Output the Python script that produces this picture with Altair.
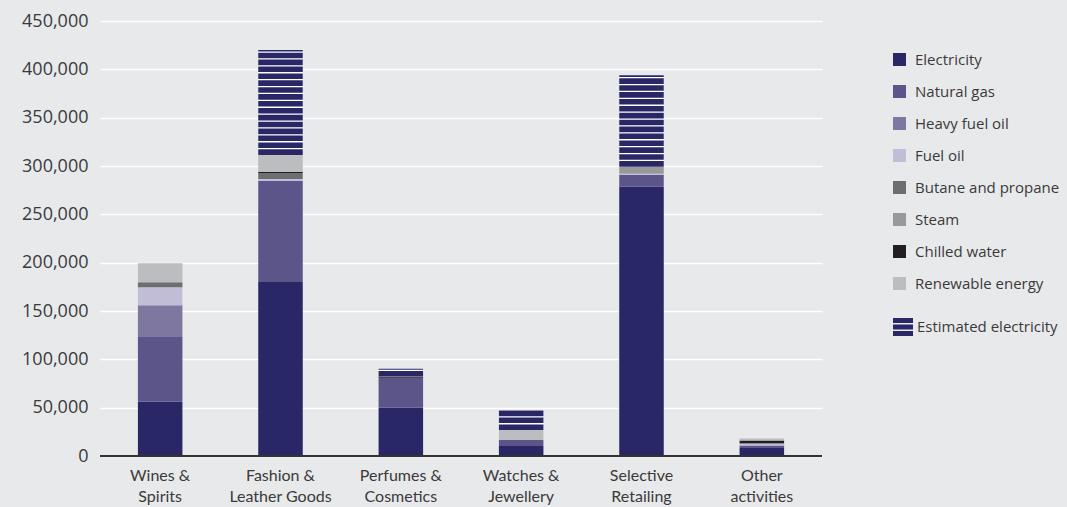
import altair as alt
import pandas as pd

categories = ["Wines &\nSpirits", "Fashion &\nLeather Goods", "Perfumes &\nCosmetics",
              "Watches &\nJewellery", "Selective\nRetailing", "Other\nactivities"]
sources = ["Electricity", "Natural gas", "Heavy fuel oil", "Fuel oil",
           "Butane and propane", "Steam", "Chilled water", "Renewable energy"]
colors = ["#2a2766", "#5c5589", "#7e77a0", "#c1bdd6", "#6d6e70", "#98999b", "#231f20", "#bcbdc0"]

electricity = [56000, 180000, 50000, 10300, 278600, 8300]
natural_gas = [68000, 104500, 31000, 6200, 12400, 2500]
heavy_fuel_oil = [32000, 0, 0, 0, 0, 0]
fuel_oil = [18600, 2000, 0, 0, 1000, 1500]
butane_propane = [5200, 6000, 0, 0, 0, 0]
steam = [0, 0, 0, 0, 7300, 1000]
chilled_water = [0, 1500, 1200, 0, 0, 2800]
renewable = [19600, 17500, 0, 10400, 0, 2000]
estimated_electricity = [0, 108600, 8000, 20700, 94700, 0]

series = [electricity, natural_gas, heavy_fuel_oil, fuel_oil, butane_propane,
          steam, chilled_water, renewable]

rows = []
for si, (src, vals) in enumerate(zip(sources, series)):
    for ci, cat in enumerate(categories):
        if vals[ci] > 0:
            rows.append({"category": cat, "source": src, "value": vals[ci], "idx": si})
df = pd.DataFrame(rows)

bases = [sum(s[ci] for s in series) for ci in range(len(categories))]
est_df = pd.DataFrame({
    "category": categories,
    "base": bases,
    "top": [b + e for b, e in zip(bases, estimated_electricity)],
    "est": estimated_electricity,
    "label": "Estimated electricity",
})
est_df = est_df[est_df["est"] > 0]

NAVY = "#2a2766"
TXT = "#3a3a3a"
xscale = alt.Scale(paddingInner=0.63, paddingOuter=0.315)
yscale = alt.Scale(domain=[0, 450000], nice=False)

x_enc = alt.X("category:N", sort=categories, scale=xscale,
              axis=alt.Axis(title=None, labelExpr="split(datum.label, '\\n')",
                            labelFont="Lato", labelFontSize=16, labelColor=TXT,
                            labelLineHeight=21, labelPadding=11, ticks=False,
                            domain=False, labelAngle=0))

bars = alt.Chart(df).mark_bar().encode(
    x=x_enc,
    y=alt.Y("value:Q", stack="zero", scale=yscale,
            axis=alt.Axis(title=None, values=list(range(0, 450001, 50000)), format=",.0f",
                          labelFont="Open Sans", labelFontSize=18, labelColor=TXT,
                          ticks=False, domain=False, labelPadding=12,
                          gridColor="white", gridWidth=1.5, gridOpacity=1)),
    color=alt.Color("source:N", scale=alt.Scale(domain=sources, range=colors),
                    legend=alt.Legend(title=None, orient="none", legendX=792, legendY=31,
                                      symbolType="square", symbolSize=169,
                                      symbolStrokeWidth=0, labelFont="Open Sans",
                                      labelFontSize=15, labelColor=TXT,
                                      rowPadding=16, labelOffset=8)),
    order=alt.Order("idx:Q", sort="ascending"),
)

white = alt.Chart(est_df).mark_bar(color="white").encode(
    x=alt.X("category:N", sort=categories, scale=xscale),
    y=alt.Y("base:Q", scale=yscale),
    y2="top:Q",
)

stripes = alt.Chart(est_df).mark_rule(color=NAVY, strokeWidth=44.5,
                                      strokeDash=[5.6, 1.3], strokeCap="butt").encode(
    x=alt.X("category:N", sort=categories, scale=xscale),
    y=alt.Y("base:Q", scale=yscale),
    y2="top:Q",
)

zero = alt.Chart(est_df).mark_rule(color="#333333", strokeWidth=1.5).encode(
    y=alt.datum(0),
)

stripe_path = "M-1,-0.9H1V-0.4H-1Z M-1,-0.25H1V0.25H-1Z M-1,0.4H1V0.9H-1Z"
leg = alt.Chart(est_df.head(1)).mark_point(filled=True, color=NAVY, opacity=0).encode(
    x=alt.X("category:N", sort=categories, scale=xscale),
    y=alt.Y("base:Q", scale=yscale),
    shape=alt.Shape("label:N", scale=alt.Scale(domain=["Estimated electricity"], range=[stripe_path]),
                    legend=alt.Legend(title=None, orient="none", legendX=793, legendY=296,
                                      symbolSize=400, symbolFillColor=NAVY, symbolOpacity=1,
                                      symbolStrokeWidth=0, labelFont="Open Sans",
                                      labelFontSize=15, labelColor=TXT, labelOffset=4)),
)

chart = alt.layer(bars, white, stripes, zero, leg).properties(
    width=722, height=435,
    autosize=alt.AutoSizeParams(type="none"),
    padding={"left": 100, "top": 21, "right": 245, "bottom": 51},
    background="#e8e9eb",
).configure_view(stroke=None)

chart.save("out.html", embed_options={"renderer": "svg", "actions": False})
